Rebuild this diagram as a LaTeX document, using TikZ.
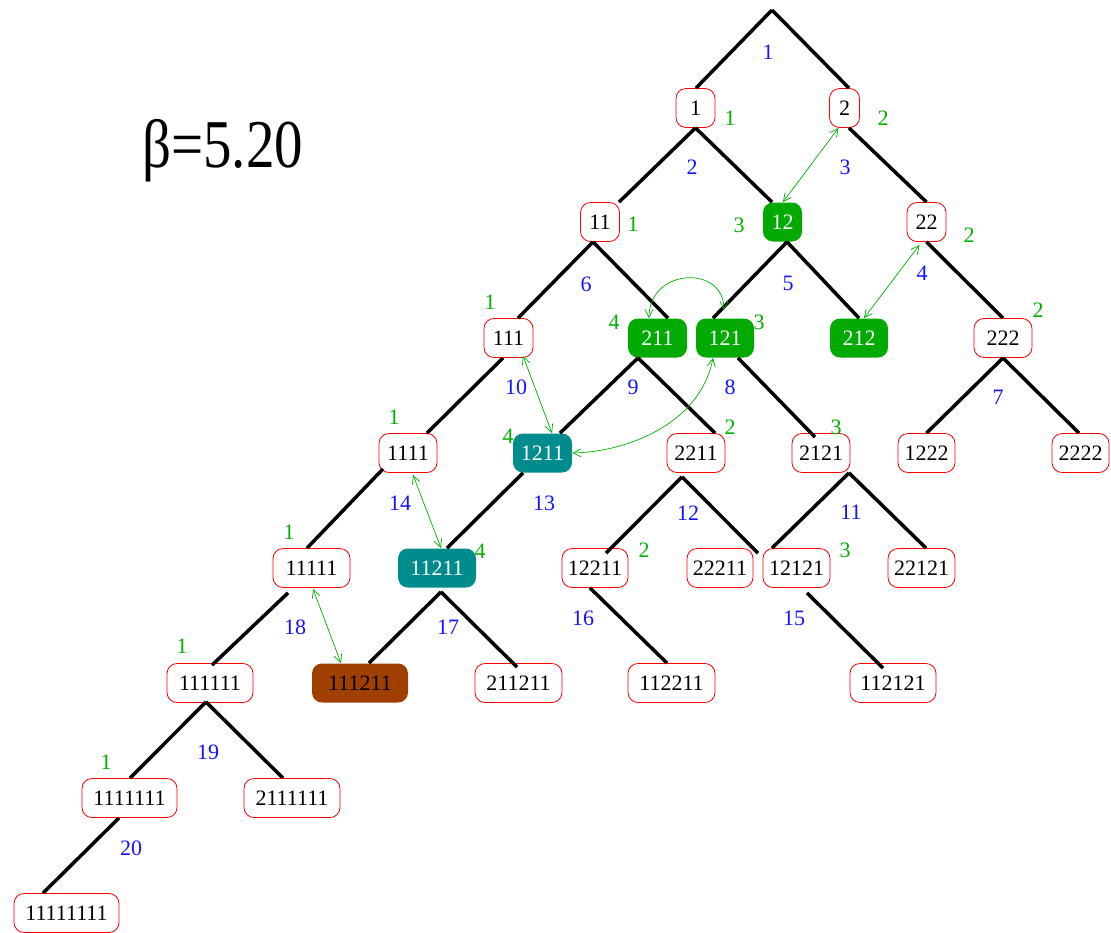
\documentclass[tikz,border=0pt]{standalone}
\usepackage{fontspec}
\setmainfont{Liberation Serif}
\usetikzlibrary{arrows.meta,calc}
\definecolor{gfill}{RGB}{0,170,0}
\definecolor{glab}{RGB}{0,176,0}
\definecolor{tfill}{RGB}{0,140,140}
\definecolor{bfill}{RGB}{160,64,0}
\definecolor{blab}{RGB}{20,20,255}
\begin{document}
\begin{tikzpicture}[x=1pt,y=-1pt,
  box/.style={draw=red, line width=0.8pt, rounded corners=10pt, fill=white,
    minimum height=39pt, inner sep=0pt, font=\fontsize{22}{26}\selectfont, text=black},
  gbox/.style={box, draw=none, fill=gfill, text=white},
  tbox/.style={box, draw=none, fill=tfill, text=white},
  bbox/.style={box, draw=none, fill=bfill, text=black},
  treeedge/.style={line width=3.5pt, black},
  blbl/.style={text=blab, inner sep=0pt, font=\fontsize{22}{26}\selectfont},
  glbl/.style={text=glab, inner sep=0pt, font=\fontsize{22}{26}\selectfont},
  link/.style={draw=glab, line width=0.7pt,
    {Straight Barb[length=8pt,width=8pt]}-{Straight Barb[length=8pt,width=8pt]}}
]
\useasboundingbox (0,0) rectangle (1111,932);

\node[inner sep=0pt, anchor=base west] (beta) at (142,167)
  {\scalebox{1}[1.2]{\fontsize{57}{60}\selectfont β=5.20}};

\coordinate (root) at (772,10);
% level 1
\node[box, minimum width=39pt] (n1) at (695.5,108) {1};
\node[box, minimum width=30pt] (n2) at (844.5,108) {2};
% level 2
\node[box, minimum width=39pt] (n11) at (600,222) {11};
\node[gbox, minimum width=39pt] (n12) at (782.5,222) {12};
\node[box, minimum width=39pt] (n22) at (926.5,222) {22};
% level 3
\node[box, minimum width=49pt] (n111) at (508.5,338) {111};
\node[gbox, minimum width=59pt] (n211) at (657.5,338) {211};
\node[gbox, minimum width=58pt] (n121) at (725,338) {121};
\node[gbox, minimum width=58pt] (n212) at (859,338) {212};
\node[box, minimum width=58pt] (n222) at (1003,338) {222};
% level 4
\node[box, minimum width=58pt] (n1111) at (408,453) {1111};
\node[tbox, minimum width=59pt] (n1211) at (542.5,453) {1211};
\node[box, minimum width=58pt] (n2211) at (696,453) {2211};
\node[box, minimum width=58pt] (n2121) at (821,453) {2121};
\node[box, minimum width=57pt] (n1222) at (926.5,453) {1222};
\node[box, minimum width=57pt] (n2222) at (1080.5,453) {2222};
% level 5
\node[box, minimum width=77pt] (n11111) at (311.5,568) {11111};
\node[tbox, minimum width=78pt] (n11211) at (437,568) {11211};
\node[box, minimum width=66pt] (n12211) at (595,568) {12211};
\node[box, minimum width=66pt] (n22211) at (720,568) {22211};
\node[box, minimum width=67pt] (n12121) at (796.5,568) {12121};
\node[box, minimum width=67pt] (n22121) at (921.5,568) {22121};
% level 6
\node[box, minimum width=86pt] (n111111) at (210,683) {111111};
\node[bbox, minimum width=96pt] (n111211) at (360,683) {111211};
\node[box, minimum width=87pt] (n211211) at (518.5,683) {211211};
\node[box, minimum width=87pt] (n112211) at (671.5,683) {112211};
\node[box, minimum width=86pt] (n112121) at (893,683) {112121};
% level 7
\node[box, minimum width=95pt] (n1111111) at (129.5,798) {1111111};
\node[box, minimum width=96pt] (n2111111) at (292,798) {2111111};
% level 8
\node[box, minimum width=105pt] (n11111111) at (66.5,913) {11111111};

% tree edges
\draw[treeedge] (root) -- ($(n1.north)+(0.5,0)$);
\draw[treeedge] (root) -- ($(n2.north)+(4.5,0)$);
\draw[treeedge] (n1.south) -- ($(n11.north)+(19,0)$);
\draw[treeedge] (n1.south) -- ($(n12.north)+(-10.5,0)$);
\draw[treeedge] ($(n2.south)+(4.5,0)$) -- (n22.north);
\draw[treeedge] ($(n11.south)+(-7,0)$) -- ($(n111.north)+(9.5,0)$);
\draw[treeedge] ($(n11.south)+(-7,0)$) -- ($(n211.north)+(10.5,0)$);
\draw[treeedge] ($(n12.south)+(4.5,0)$) -- ($(n121.north)+(-12,0)$);
\draw[treeedge] ($(n12.south)+(4.5,0)$) -- (n212.north);
\draw[treeedge] (n22.south) -- (n222.north);
\draw[treeedge] ($(n111.south)+(-5.5,0)$) -- ($(n1111.north)+(19,0)$);
\draw[treeedge] ($(n211.south)+(-19.5,0)$) -- ($(n1211.north)+(17.5,0)$);
\draw[treeedge] ($(n211.south)+(-19.5,0)$) -- ($(n2211.north)+(19,0)$);
\draw[treeedge] ($(n121.south)+(13,0)$) -- ($(n2121.north)+(-6,4)$);
\draw[treeedge] (n222.south) -- (n1222.north);
\draw[treeedge] (n222.south) -- ($(n2222.north)+(-1.5,0)$);
\draw[treeedge] ($(n1111.south)+(-25,-4)$) -- ($(n11111.north)+(-4.5,0)$);
\draw[treeedge] ($(n1211.south)+(-19.5,0)$) -- ($(n11211.north)+(10,0)$);
\draw[treeedge] ($(n2211.south)+(-14,4)$) -- ($(n12211.north)+(11,5)$);
\draw[treeedge] ($(n2211.south)+(-14,4)$) -- ($(n22211.north)+(38,5)$);
\draw[treeedge] ($(n2121.south)+(28,0)$) -- ($(n12121.north)+(-24.5,0)$);
\draw[treeedge] ($(n2121.south)+(28,0)$) -- ($(n22121.north)+(4.5,0)$);
\draw[treeedge] ($(n11111.south)+(-23.5,5)$) -- ($(n111111.north)+(2,2)$);
\draw[treeedge] ($(n11211.south)+(4,4)$) -- ($(n111211.north)+(9,0)$);
\draw[treeedge] ($(n11211.south)+(4,4)$) -- ($(n211211.north)+(-1.5,4)$);
\draw[treeedge] ($(n12211.south)+(-5,0)$) -- ($(n112211.north)+(-4.5,0)$);
\draw[treeedge] ($(n12121.south)+(10.5,5)$) -- ($(n112121.north)+(-10,5)$);
\draw[treeedge] ($(n111111.south)+(-4,-1)$) -- ($(n1111111.north)+(0.5,0)$);
\draw[treeedge] ($(n111111.south)+(-4,-1)$) -- ($(n2111111.north)+(-9,0)$);
\draw[treeedge] ($(n1111111.south)+(-10.5,0)$) -- ($(n11111111.north)+(-23.5,0)$);

% green links
\draw[link] ($(n2.south)+(-6,0)$) -- ($(n12.north)+(0.5,0)$);
\draw[link] ($(n22.south)+(-7,3)$) -- ($(n212.north)+(5,0)$);
\draw[link] ($(n211.north)+(-8.5,0)$) .. controls +(0,-50) and +(0,-46) .. ($(n121.north)+(-1,-8)$);
\draw[link] ($(n111.south)+(14.5,-2)$) -- ($(n1211.north)+(9.5,0)$);
\draw[link] ($(n121.south)+(-12,0)$) .. controls (700,425) and (625,452) .. (n1211.east);
\draw[link] ($(n1111.south)+(5,2)$) -- ($(n11211.north)+(4,0)$);
\draw[link] ($(n11111.south)+(1.5,1)$) -- ($(n111211.north)+(-19,0)$);

% blue edge numbers
\node[blbl] (e1) at (768,52) {1};
\node[blbl] (e2) at (692,167) {2};
\node[blbl] (e3) at (845,167) {3};
\node[blbl] (e4) at (922,273) {4};
\node[blbl] (e5) at (788,283) {5};
\node[blbl] (e6) at (586,284) {6};
\node[blbl] (e7) at (998,397) {7};
\node[blbl] (e8) at (730,387) {8};
\node[blbl] (e9) at (633,387) {9};
\node[blbl] (e10) at (516,387) {10};
\node[blbl] (e11) at (851,512) {11};
\node[blbl] (e12) at (688,513) {12};
\node[blbl] (e13) at (544,503) {13};
\node[blbl] (e14) at (400,503) {14};
\node[blbl] (e15) at (794,618) {15};
\node[blbl] (e16) at (583,618) {16};
\node[blbl] (e17) at (448,627) {17};
\node[blbl] (e18) at (295,627) {18};
\node[blbl] (e19) at (208,752) {19};
\node[blbl] (e20) at (131,848) {20};

% green numbers
\node[glbl] (g1) at (730,118) {1};
\node[glbl] (g2) at (883,118) {2};
\node[glbl] (g11) at (633,224) {1};
\node[glbl] (g12) at (739,225) {3};
\node[glbl] (g22) at (969,235) {2};
\node[glbl] (g111) at (490,302) {1};
\node[glbl] (g211) at (614,322) {4};
\node[glbl] (g121) at (759,322) {3};
\node[glbl] (g222) at (1038,310) {2};
\node[glbl] (g1111) at (394,417) {1};
\node[glbl] (g1211) at (508,436) {4};
\node[glbl] (g2211) at (730,427) {2};
\node[glbl] (g2121) at (836,427) {3};
\node[glbl] (g11111) at (289,532) {1};
\node[glbl] (g11211) at (480,551) {4};
\node[glbl] (g12211) at (644,550) {2};
\node[glbl] (g12121) at (845,550) {3};
\node[glbl] (g111111) at (182,646) {1};
\node[glbl] (g1111111) at (106,762) {1};
\end{tikzpicture}
\end{document}
